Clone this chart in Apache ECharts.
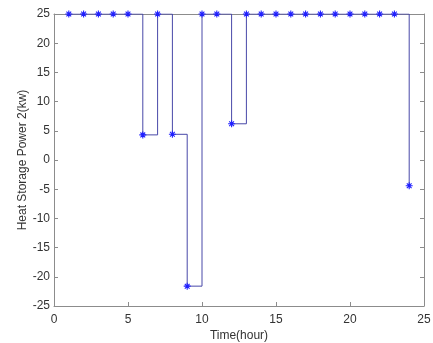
<!DOCTYPE html>
<html><head><meta charset="utf-8">
<script src="https://cdn.jsdelivr.net/npm/echarts@6/dist/echarts.min.js"></script>
<style>html,body{margin:0;padding:0;background:#fff}#c{width:433px;height:343px}</style>
</head><body><div id="c"></div>
<script>
const hours = [1,2,3,4,5,6,7,8,9,10,11,12,13,14,15,16,17,18,19,20,21,22,23,24];
const power = [25,25,25,25,25,4.3,25,4.4,-21.6,25,25,6.2,25,25,25,25,25,25,25,25,25,25,25,-4.4];
const xTicks = [0,5,10,15,20,25];
const yTicks = [-25,-20,-15,-10,-5,0,5,10,15,20,25];
const xName = 'Time(hour)';
const yName = 'Heat Storage Power 2(kw)';

const axisGray = '#8c8c8c';
const textCol = '#333333';
const font = 'Liberation Sans, Arial, sans-serif';
const star = 'path://M0,5L10,5M5,0L5,10M1.6,1.6L8.4,8.4M1.6,8.4L8.4,1.6';

const chart = echarts.init(document.getElementById('c'), null, {renderer:'canvas'});
const baseAxis = {
  axisLine:{show:true, onZero:false, lineStyle:{color:axisGray, width:1}},
  axisTick:{show:true, inside:true, length:4, lineStyle:{color:axisGray}},
  splitLine:{show:false},
  axisLabel:{color:textCol, fontSize:12, fontFamily:font}
};
chart.setOption({
  animation:false,
  backgroundColor:'#fff',
  grid:{left:54, right:9, top:14, bottom:37, containLabel:false, outerBoundsMode:'none'},
  xAxis:[
    Object.assign({}, baseAxis, {type:'value', min:xTicks[0], max:xTicks[xTicks.length-1], interval:5, position:'bottom',
      name:xName, nameLocation:'middle', nameGap:24, nameMoveOverlap:false, nameTextStyle:{color:textCol, fontSize:12, fontFamily:font},
      axisLabel:{color:textCol, fontSize:12, fontFamily:font, margin:8}}),
    Object.assign({}, baseAxis, {type:'value', min:xTicks[0], max:xTicks[xTicks.length-1], interval:5, position:'top',
      axisLabel:{show:false}, axisTick:{show:false}})
  ],
  yAxis:[
    Object.assign({}, baseAxis, {type:'value', min:yTicks[0], max:yTicks[yTicks.length-1], interval:5, position:'left',
      name:yName, nameLocation:'middle', nameGap:25, nameMoveOverlap:false, nameTextStyle:{color:textCol, fontSize:12, fontFamily:font},
      axisLabel:{color:textCol, fontSize:12, fontFamily:font, margin:4}}),
    Object.assign({}, baseAxis, {type:'value', min:yTicks[0], max:yTicks[yTicks.length-1], interval:5, position:'right',
      axisLabel:{show:false}})
  ],
  series:[{
    type:'line', step:'end', xAxisIndex:0, yAxisIndex:0,
    data: hours.map((h,i)=>[h, power[i]]),
    lineStyle:{color:'#4848a8', width:1},
    symbol: star, symbolSize:7, showSymbol:true,
    itemStyle:{color:'none', borderColor:'#2020ff', borderWidth:1.1},
    z:3
  }]
});
</script></body></html>
